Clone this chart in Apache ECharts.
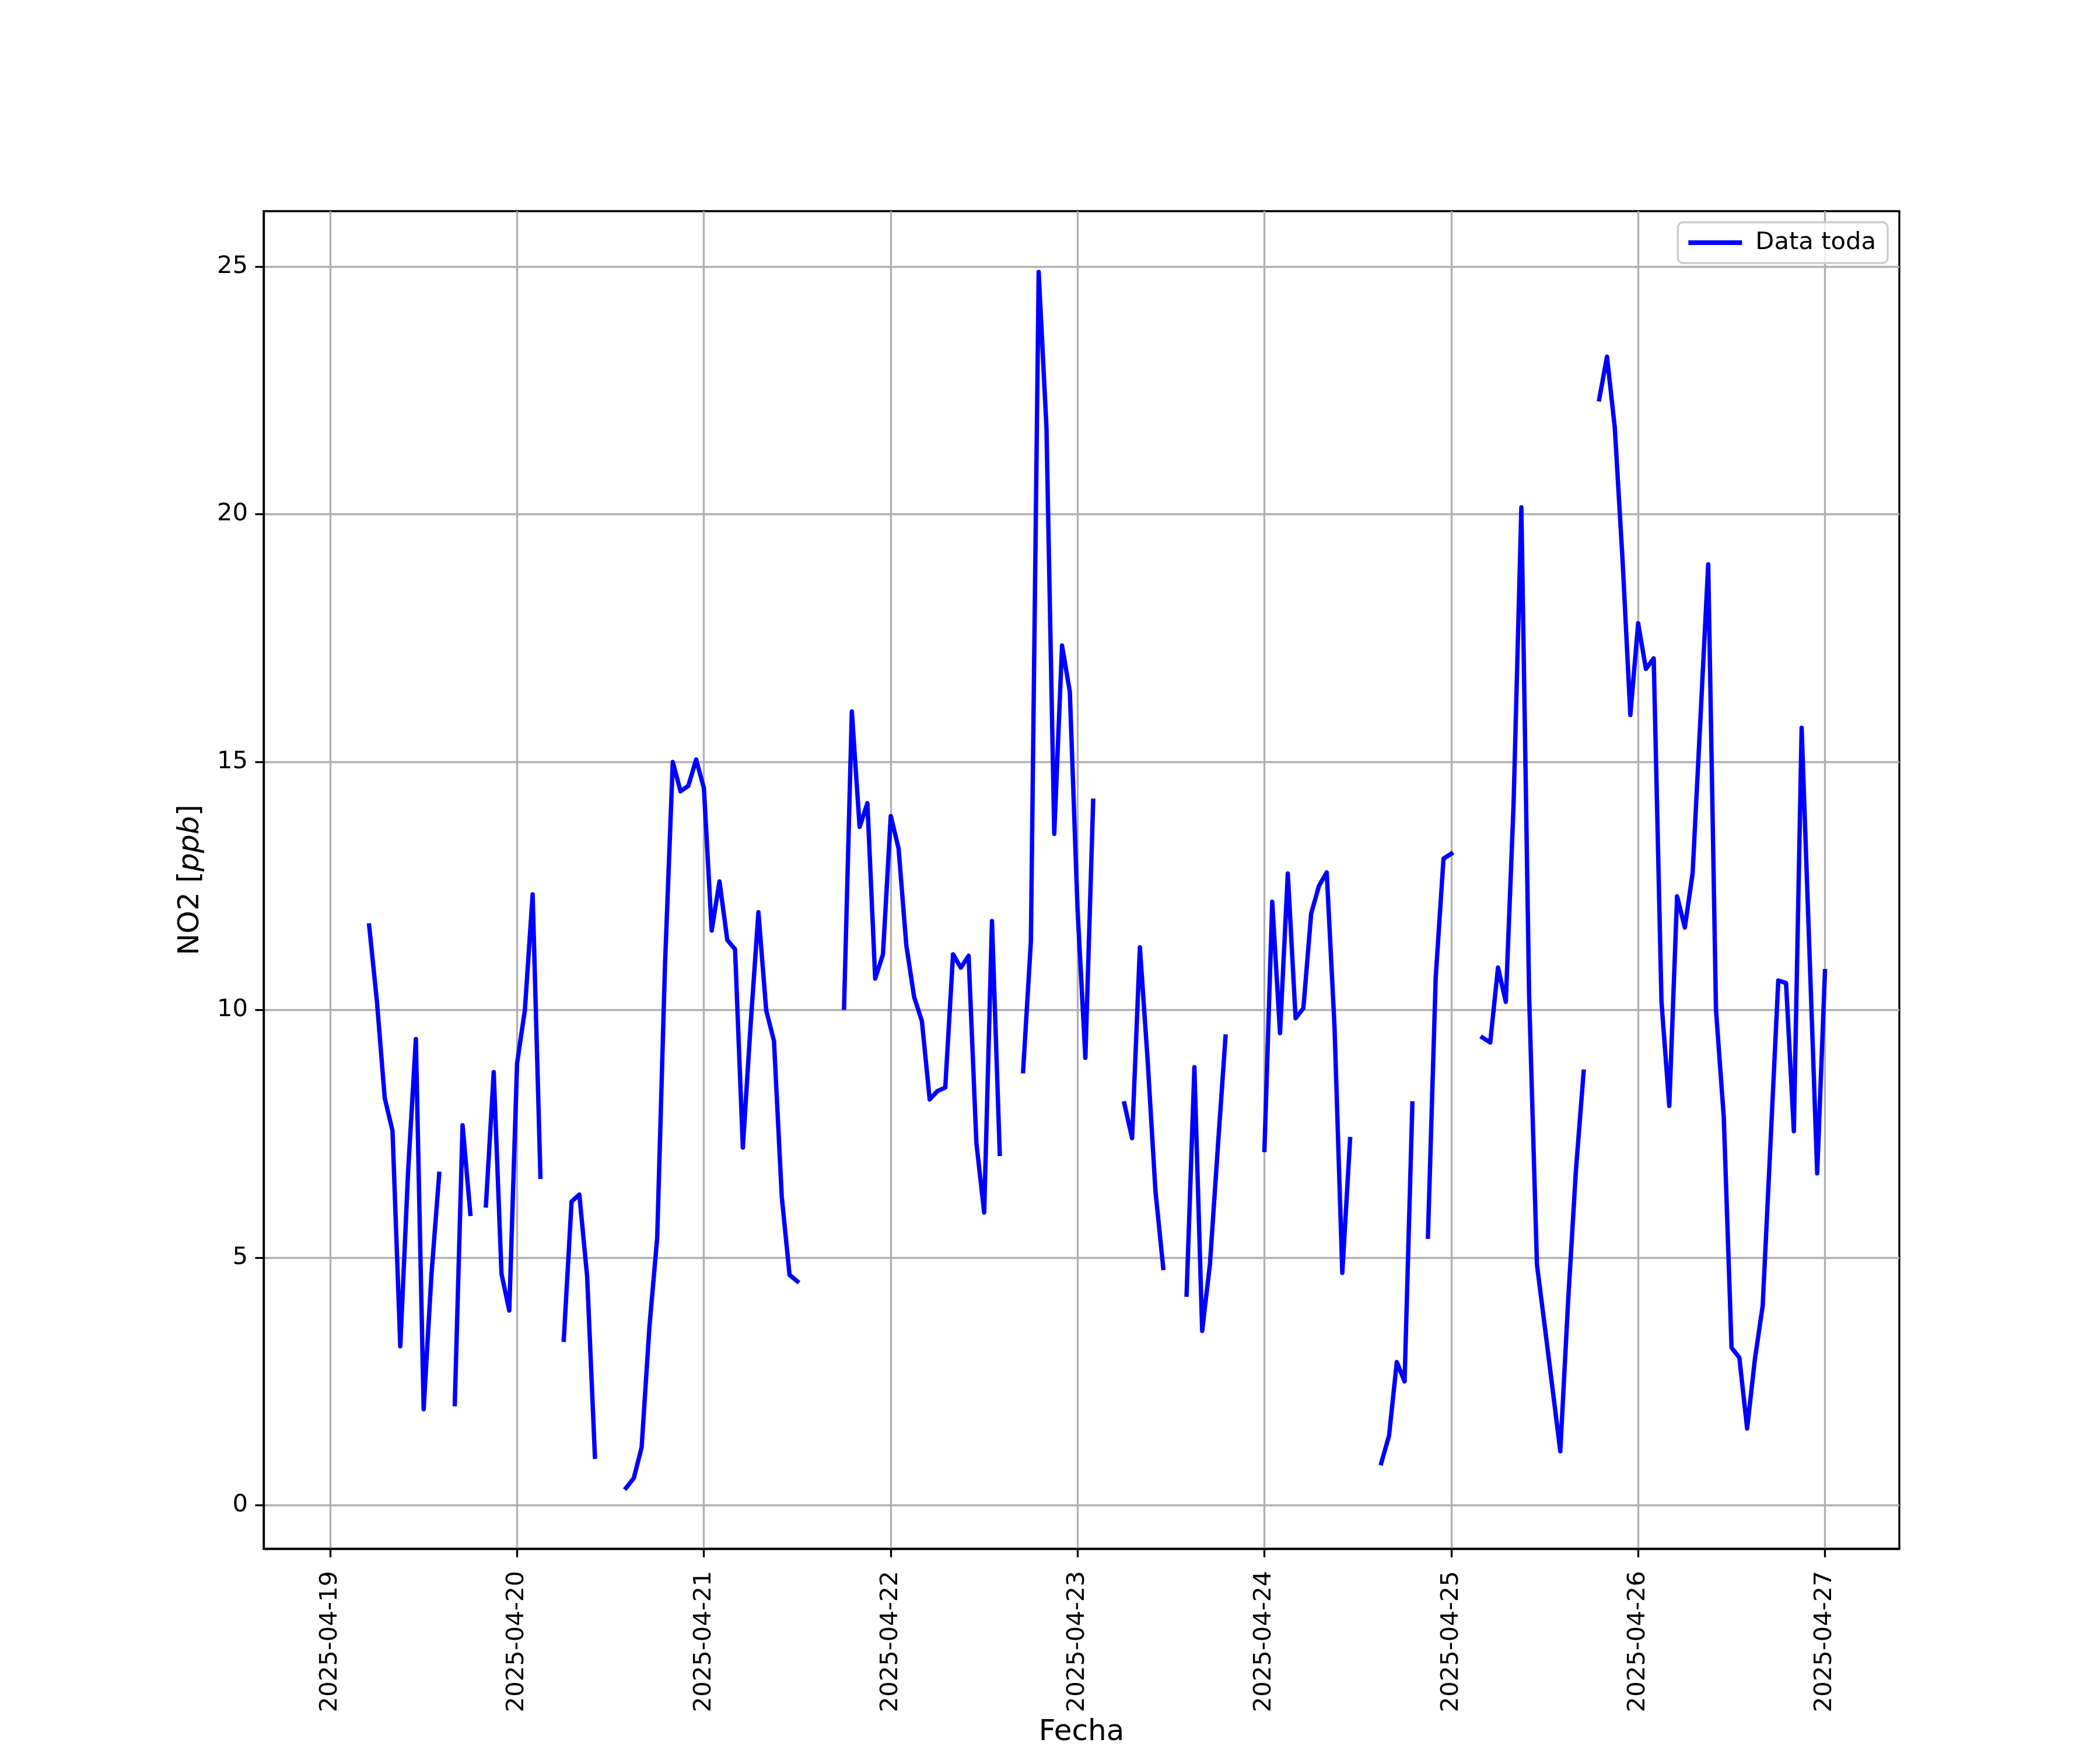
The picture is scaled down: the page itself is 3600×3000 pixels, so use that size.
<!DOCTYPE html>
<html>
<head>
<meta charset="utf-8">
<script src="https://cdn.jsdelivr.net/npm/echarts@6/dist/echarts.min.js"></script>
<style>
html,body{margin:0;padding:0;background:#fff;}
#chart{width:3600px;height:3000px;}
</style>
</head>
<body>
<div id="chart"></div>
<script>
// Hourly NO2 values (ppb), one array per day, index = hour of day; null = no data
const days = ['2025-04-19','2025-04-20','2025-04-21','2025-04-22','2025-04-23','2025-04-24','2025-04-25','2025-04-26','2025-04-27'];
const no2_0419 = [null,null,null,null,null,11.70,10.17,8.22,7.56,3.21,6.73,9.41,1.94,4.65,6.69,null,2.04,7.67,5.88,null,6.05,8.74,4.67,3.93];
const no2_0420 = [8.92,9.99,12.33,6.63,null,null,3.34,6.13,6.27,4.62,0.98,null,null,null,0.35,0.55,1.17,3.60,5.40,10.90,15.00,14.41,14.52,15.05];
const no2_0421 = [14.47,11.60,12.59,11.41,11.22,7.22,9.70,11.97,9.99,9.37,6.23,4.65,4.52,null,null,null,null,null,10.04,16.02,13.69,14.17,10.63,11.12];
const no2_0422 = [13.91,13.26,11.30,10.26,9.77,8.19,8.36,8.43,11.12,10.85,11.09,7.31,5.91,11.79,7.09,null,null,8.76,11.38,24.89,21.75,13.55,17.35,16.42];
const no2_0423 = [12.00,9.03,14.22,null,null,null,8.11,7.41,11.26,8.97,6.34,4.79,null,null,4.25,8.84,3.52,4.87,7.20,9.46,null,null,null,null];
const no2_0424 = [7.17,12.18,9.53,12.75,9.83,10.03,11.94,12.50,12.77,9.66,4.69,7.39,null,null,null,0.85,1.40,2.89,2.50,8.11,null,5.42,10.66,13.05];
const no2_0425 = [13.15,null,null,null,9.44,9.34,10.85,10.16,14.15,20.14,10.27,4.86,3.62,2.36,1.09,4.10,6.74,8.75,null,22.32,23.18,21.75,19.07,15.95];
const no2_0426 = [17.80,16.88,17.09,10.16,8.06,12.29,11.66,12.76,15.87,18.99,10.00,7.83,3.18,2.98,1.55,2.95,4.03,7.30,10.59,10.54,7.55,15.69,11.20,6.70];
const no2_0427 = [10.78];

const xTickLabels = ['2025-04-19','2025-04-20','2025-04-21','2025-04-22','2025-04-23','2025-04-24','2025-04-25','2025-04-26','2025-04-27'];
const yTickValues = [0,5,10,15,20,25];
const seriesName = 'Data toda';

const allDays = [no2_0419,no2_0420,no2_0421,no2_0422,no2_0423,no2_0424,no2_0425,no2_0426,no2_0427];
const lineData = [];
allDays.forEach((arr, d) => {
  arr.forEach((v, h) => {
    const hourIdx = d * 24 + h;
    if (hourIdx === 0) return; // record starts at 01:00
    lineData.push([hourIdx, v === null ? '-' : v]);
  });
});
const xTickValues = xTickLabels.map((_, i) => i * 24);

const chart = echarts.init(document.getElementById('chart'), null, {renderer: 'canvas'});
const FONT = 'DejaVu Sans';
const option = {
  backgroundColor: '#ffffff',
  animation: false,
  textStyle: {fontFamily: FONT},
  grid: {
    left: 452, right: 344, top: 362, bottom: 316,
    show: true, borderColor: '#000000', borderWidth: 3.3, backgroundColor: 'transparent'
  },
  legend: {
    data: [seriesName],
    right: 364, top: 381,
    icon: 'rect',
    itemWidth: 92, itemHeight: 8,
    padding: [14, 20, 14, 18],
    borderColor: '#cccccc', borderWidth: 3.3, borderRadius: 9,
    backgroundColor: 'rgba(255,255,255,0.8)',
    textStyle: {fontFamily: FONT, fontSize: 41.7, color: '#000', padding: [0, 0, 0, 18]}
  },
  xAxis: {
    type: 'value',
    min: -8.55, max: 201.55,
    name: 'Fecha',
    nameLocation: 'middle',
    nameGap: 290,
    nameTextStyle: {fontFamily: FONT, fontSize: 50, color: '#000', verticalAlign: 'top'},
    axisLine: {show: true, onZero: false, lineStyle: {color: '#000', width: 3.3}},
    axisTick: {show: true, length: 14.6, lineStyle: {color: '#000', width: 3.3}, customValues: xTickValues},
    axisLabel: {
      show: true, rotate: 90, margin: 38, fontSize: 41.7, color: '#000', fontFamily: FONT,
      customValues: xTickValues,
      formatter: (v) => xTickLabels[Math.round(v / 24)]
    },
    splitLine: {show: true, lineStyle: {color: '#b0b0b0', width: 3.3}}
  },
  yAxis: {
    type: 'value',
    min: -0.877, max: 26.117,
    name: 'NO2 [{i|ppb}]',
    nameLocation: 'middle',
    nameRotate: 90,
    nameGap: 100,
    nameTextStyle: {fontFamily: FONT, fontSize: 50, color: '#000', rich: {i: {fontFamily: FONT, fontSize: 50, fontStyle: 'italic', color: '#000'}}},
    axisLine: {show: true, onZero: false, lineStyle: {color: '#000', width: 3.3}},
    axisTick: {show: true, length: 14.6, lineStyle: {color: '#000', width: 3.3}, customValues: yTickValues},
    axisLabel: {show: true, margin: 27, fontSize: 41.7, color: '#000', fontFamily: FONT, customValues: yTickValues},
    splitLine: {show: true, lineStyle: {color: '#b0b0b0', width: 3.3}}
  },
  series: [{
    name: seriesName,
    type: 'line',
    data: lineData,
    showSymbol: false,
    symbol: 'none',
    connectNulls: false,
    color: '#0000ff',
    lineStyle: {color: '#0000ff', width: 7.5, cap: 'square', join: 'round'},
    z: 3
  }]
};
chart.setOption(option);
</script>
</body>
</html>
